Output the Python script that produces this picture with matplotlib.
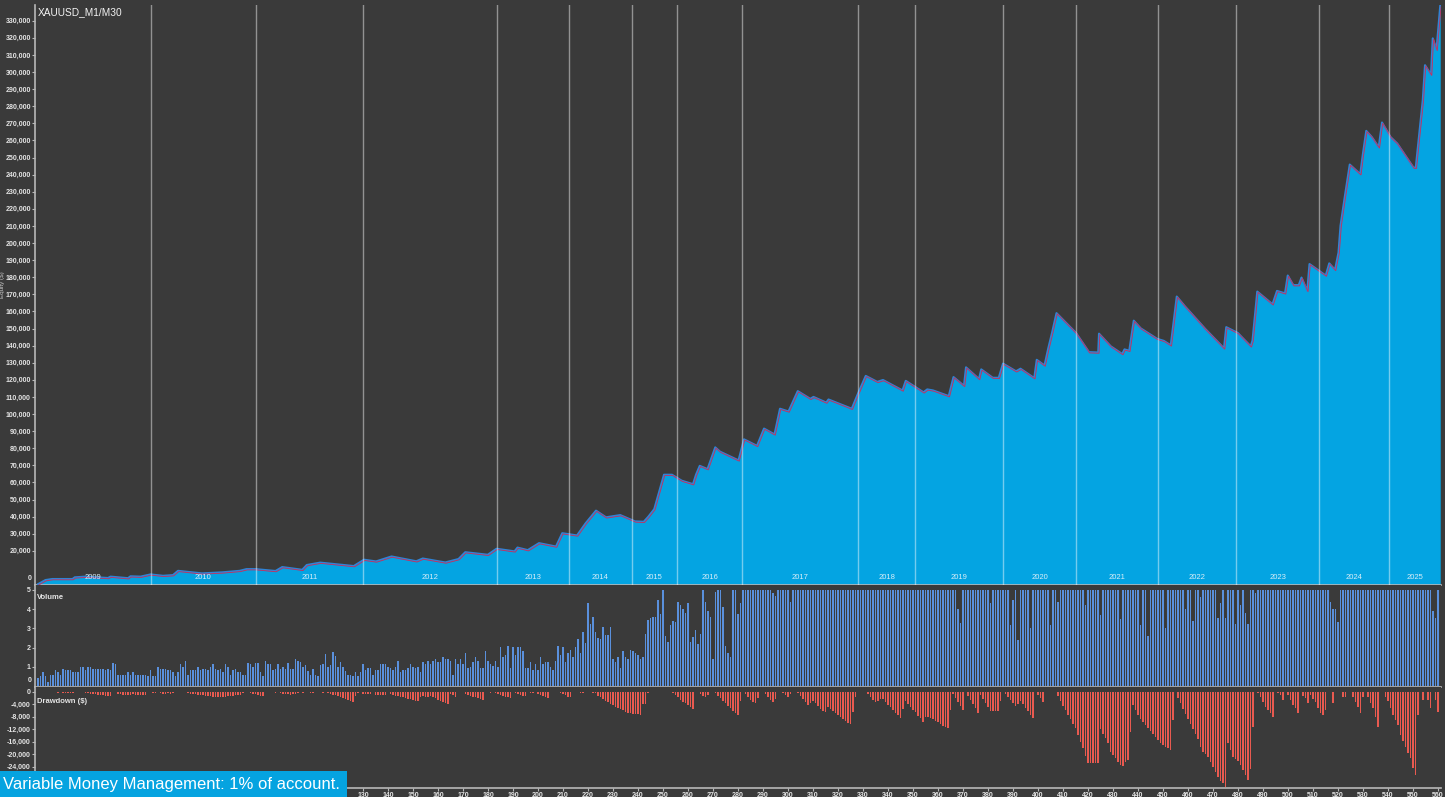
import matplotlib
matplotlib.use("agg")
import matplotlib.pyplot as plt
import matplotlib.transforms as mtransforms
from matplotlib.patches import Rectangle
from matplotlib.ticker import FuncFormatter, MultipleLocator, FixedLocator
import numpy as np

plt.rcParams['font.family'] = ['Liberation Sans', 'DejaVu Sans']

# equity curve vertices (trade number, equity in $1000)
eq_trade = [0, 3, 5.7, 13.8, 14.7, 19, 28, 29, 36, 37, 41, 45, 50, 54, 56, 65.6, 73.6, 80.7, 83.4, 87,
            95, 97.7, 105.7, 107.5, 112.9, 126.3, 130.4, 135.2, 141.4, 151.3, 153.9, 162.9, 168.2, 170.9,
            179.9, 183.4, 190.6, 191.8, 195.9, 200.4, 207.2, 209.7, 215.6, 219.1, 223.2, 227.2, 232.9,
            238.8, 242.3, 244.1, 246.5, 250.4, 253.6, 257.5, 262, 263.2, 264.7, 267.8, 270.9, 272.8,
            280.2, 282.4, 287.6, 290.4, 294.6, 296.8, 300.2, 303.9, 308.9, 310.2, 315.3, 316.2, 325.5,
            327.9, 331.1, 335.7, 338, 345.8, 347.1, 354.2, 355.7, 358, 364.3, 366.2, 370.4, 371.2, 376.4,
            377.3, 381.9, 384.3, 386.0, 391.2, 393, 398.5, 399.5, 402.6, 404.1, 405.6, 407.4, 415.2,
            420.4, 424.1, 424.4, 429.1, 433.7, 434.6, 436.5, 438.3, 441.1, 447.6, 450.3, 453.1, 455.5,
            458.7, 467.0, 474.4, 475.3, 479.9, 485.1, 485.8, 487.7, 493.8, 495.6, 498.8, 499.9, 502.1,
            504.3, 505.4, 507.7, 508.6, 515.1, 516.5, 518.8, 520.2, 521.0, 522.8, 524.7, 528.9, 529.9,
            531.3, 533.5, 536.3, 537.6, 541, 543.7, 550.2, 551.1, 553.9, 554.8, 557.2, 557.9, 559.4, 560.9]
equity_k = [0.5, 2.9, 3.5, 3.5, 4.5, 4.9, 4.1, 4.9, 4.0, 5.1, 4.9, 6.2, 5.4, 5.8, 8.3, 6.8, 7.4, 8.3, 9.3, 9.3,
            8.2, 10.5, 8.9, 11.7, 13.1, 11.1, 14.8, 13.8, 16.7, 13.9, 15.5, 13.2, 15.2, 19.2,
            17.7, 21.2, 19.7, 21.9, 20.4, 24.5, 22.5, 30.3, 29.0, 36.2, 43.5, 39.6, 40.9,
            37.2, 37.0, 39.9, 44.4, 64.5, 64.5, 61.0, 59.0, 64.5, 69.7, 67.8, 80.5, 78.0,
            72.9, 85.2, 81.4, 91.5, 88.1, 103.1, 101.5, 113.4, 108.9, 110.0, 106.7, 108.5, 103.1,
            111.6, 122.3, 118.8, 119.9, 113.8, 119.4, 112.7, 114.4, 113.8, 110.5, 121.6, 116.5, 127.3, 120.5,
            126.1, 121.2, 121.2, 129.5, 125.0, 126.5, 121.0, 131.7, 128.4, 138.4, 147.4, 159.0, 147.4,
            136.2, 136.0, 147.0, 139.6, 135.1, 137.8, 137.0, 154.6, 150.1, 144.0, 142.8, 140.2, 168.7,
            163.1, 149.6, 138.4, 150.8, 147.4, 139.6, 143.0, 171.6, 164.2, 172.0, 170.6, 181.0, 175.4,
            175.4, 179.8, 172.0, 187.7, 181.0, 188.1, 184.3, 194.4, 210.1, 227.9, 245.9, 240.3, 251.5,
            265.6, 262.0, 256.0, 270.5, 262.0, 258.2, 244.1, 244.1, 283.5, 304.0, 298.5, 319.7, 313.0, 338.8]

# lots per trade (trade 0 .. 560)
volume = [
    0.43, 0.52, 0.73, 0.52, 0.23, 0.6, 0.6, 0.83, 0.73, 0.6, 0.91, 0.83, 0.83, 0.83, 0.73, 0.73, 0.73, 1.0, 1.0, 0.83,
    1.0, 1.0, 0.91, 0.91, 0.91, 0.91, 0.91, 0.83, 0.91, 0.83, 1.22, 1.14, 0.6, 0.6, 0.6, 0.6, 0.73, 0.6, 0.73, 0.6,
    0.6, 0.6, 0.6, 0.6, 0.52, 0.83, 0.52, 0.52, 1.0, 0.91, 0.91, 0.91, 0.83, 0.83, 0.73, 0.52, 0.73, 1.14, 1.0, 1.3,
    0.6, 0.83, 0.83, 0.83, 1.0, 0.83, 0.91, 0.91, 0.83, 1.0, 1.14, 0.91, 0.83, 0.91, 0.73, 1.14, 1.0, 0.6, 0.83, 0.91,
    0.73, 0.73, 0.6, 0.6, 1.22, 1.14, 1.0, 1.22, 1.22, 0.73, 0.52, 1.3, 1.14, 1.14, 0.83, 0.91, 1.14, 0.91, 1.0, 0.91,
    1.22, 0.91, 0.91, 1.41, 1.3,
    1.25, 1.0, 1.1, 0.8, 0.6, 0.9, 0.6, 0.5, 1.1, 1.15, 1.65, 1.0, 1.1, 1.75, 1.55,
    1.0, 1.23, 1.0, 0.78, 0.6, 0.6, 0.52, 0.71, 0.52, 0.71, 1.13, 0.83, 0.92, 0.92, 0.6, 0.83, 0.83, 1.13, 1.13, 1.13,
    1.0, 0.92, 0.83, 1.0, 1.3, 0.71, 0.83, 0.83, 0.92, 1.13, 1.0, 0.92, 1.0, 0.71, 1.23, 1.13, 1.3, 1.13, 1.3, 1.4,
    1.23, 1.23, 1.53, 1.4, 1.4, 1.3, 0.6, 1.4, 1.13, 1.4, 1.13, 1.7, 0.92, 1.0, 1.23, 1.53, 1.3, 0.92, 0.92, 1.82,
    1.3, 1.13, 1.05, 1.3, 1.0, 2.03, 1.53, 1.62, 2.1, 0.92, 2.03, 1.62, 2.03, 2.03, 1.82, 0.92, 0.92, 1.23, 0.82, 1.13,
    0.82, 1.53, 1.13, 1.23, 1.23, 1.0, 0.82, 1.3, 2.1, 1.62, 2.03, 1.23, 1.7, 1.9, 1.53, 2.03, 2.43, 1.7, 2.83, 2.22,
    4.3, 3.21, 3.61, 2.83, 2.52, 2.43, 3.09, 2.64, 2.64, 3.09, 1.4, 1.23, 1.53, 0.92, 1.82, 1.53, 1.4, 1.9, 1.82, 1.7,
    1.62, 1.4, 1.53, 2.69, 3.44, 3.52, 3.61, 3.61,
    4.48, 3.73, 5.0, 2.6, 2.3, 3.2, 3.4, 3.33, 4.39, 4.2, 4.0, 3.79, 4.3, 2.3, 2.53, 2.9, 2.2, 2.71, 5.0, 4.39,
    3.92, 3.57, 1.39, 4.88, 5.0, 5.0, 4.13, 2.08, 1.7, 1.49, 5.0, 5.0, 3.75, 4.3, 5.0, 5.0, 5.0, 5.0, 5.0, 5.0,
    5.0, 5.0, 5.0, 5.0, 5.0, 5.0, 4.85, 4.7, 5.0,
    5, 5, 5, 5, 4.4, 5, 5, 5, 5, 5, 5, 5,
    5, 5, 5, 5, 5, 5, 5, 5, 5, 5, 5, 5,
    5, 5, 5, 5, 5, 5, 5, 5, 5, 5, 5, 5,
    5, 5, 5, 5, 5, 5, 5, 5, 5, 5, 5, 5,
    5, 5, 5, 5, 5, 5, 5, 5, 5, 5, 5, 5,
    5, 5, 5, 5, 5, 5, 5, 5, 5, 5, 5, 4.0,
    3.3, 5, 5, 5, 5, 5, 5, 5, 5, 5, 5, 5,
    4.3, 5, 5, 5, 5, 5, 5, 5, 3.2, 4.5, 5, 2.4,
    5, 5, 5, 5, 3.0, 5, 5, 5, 5, 5, 5, 5,
    3.2, 5, 5, 4.4, 5, 5, 5, 5, 5, 5, 5, 5,
    5, 5, 4.2, 5, 5, 5, 5, 5, 3.7, 5, 5, 5,
    5, 5, 5, 5, 3.5, 5, 5, 5, 5, 5, 5, 5,
    3.2, 5, 5, 2.6, 5, 5, 5, 5, 5, 5, 3.0, 5,
    5, 5, 5, 5, 5, 5, 4.0, 5, 5, 3.4, 5, 5,
    4.62, 5, 5, 5, 5, 5, 5, 3.52, 4.3, 5, 3.52, 5, 5, 5, 3.21, 5, 4.2, 5, 3.82, 3.21,
    5, 5, 4.83, 5, 5, 5, 5, 5, 5, 5, 5, 5, 5, 5, 5, 5, 5, 5, 5, 5,
    5, 5, 5, 5, 5, 5, 5, 5, 5, 5, 5, 5, 4.39, 4.0, 4.0, 3.33, 5, 5, 5, 5,
    5, 5, 5, 5, 5, 5, 5, 5, 5, 5, 5, 5, 5, 5, 5, 5, 5, 5, 5, 5,
    5, 5, 5, 5, 5, 5, 5, 5, 5, 5, 5, 5, 5, 3.92, 3.52, 5]

# drawdown in $ per trade (trade 0 .. 560)
drawdown = [
    -200, 0, -150, -200, -250, 0, -200, -300, -350, -150, -400, -450, -450, -500, -350, -300, -300, 0, -250, -450,
    -600, -700, -800, -900, -1000, -1100, -1200, -1300, -1400, -1400, -300, -200, -700, -900, -1000, -1100, -1200, -1200, -900, -1000,
    -1100, -1200, -1100, -1000, -300, 0, -400, -500, -300, -600, -700, -800, -600, -700, -500, -300, -200, 0, -200, 0,
    -600, -700, -800, -900, -1000, -1100, -1200, -1300, -1400, -1500, -1600, -1700, -1900, -1800, -1700, -1600, -1500, -1400, -1300, -1100,
    -1100, -1000, -400, 0, -300, -500, -700, -900, -1100, -1300, -1300, 0, -200, 0, -300, -500, 0, -600, -700, -800,
    -900, -1000, -800, -700, -600,
    -300, -500, 0, -200, -400, -500, -300, 0, -200, -400, 0, -600, -900, -1200, -1000,
    -1280, -1600, -1920, -2240, -2560, -2880, -3200, -1280, -400, 0, -750, -750, -750, -750, 0, -960, -960, -960, -960, -960,
    0, -750, -1000, -1300, -1500, -1700, -1900, -2100, -2300, -2500, -2700, -2900, -3100, -1600, -1300, -1800, -1900, -1300, -1800, -2200,
    -2600, -3000, -3300, -3600, -3950, -700, -1200, -1700, 0, 0, 0, -750, -1000, -1300, -1600, -1900, -2200, -2400, -2560, 0,
    -300, -400, -300, -400, -700, -1000, -1300, -1600, -1800, -2000, 0, -400, -700, -1000, -1300, -1500, 0, -400, -400, 0,
    -700, -1100, -1500, -1900, -2100, 0, 0, 0, 0, -400, -800, -1200, -1600, -1700, 0, 0, 0, -400, -600, 0,
    0, 0, -400, -400, -1400, -1900, -2400, -2900, -3400, -3900, -4400, -4800, -5200, -5600, -6000, -6400, -6800, -7000, -7150, -7150,
    -7200, -7400, -3900, -3900, -400, 0, 0, 0,
    0, 0, 0, 0, -200, 0, -600, -1200, -1800, -2600, -3200, -3800, -4400, -5000, -5500, 0, 0, -900, -1500, -1900,
    -1200, 0, 0, -600, -1400, -2200, -3000, -3800, -4600, -5400, -6200, -7000, -7600, -3000, 0, -800, -1700, -2600, -3300, -3800,
    -2000, 0, 0, -800, -1800, -2700, -3400, -2500, 0, 0, -600, -1200, -1600, -800, 0, 0, -600, -1500, -2400, -3300,
    -4300, -3600, -3000, -3800, -4700, -5600, -6300, -6700, -5000, -5500, -6200, -6900, -7600, -8200, -8900, -9500, -10000, -10300, -6500, -1800,
    0, 0, 0, 0, -900, -1800, -2700, -3500, -3000, -2500, -2400, -3300, -4200, -5000, -5900, -6800, -7600, -8500, -5500, -2900,
    -3900, -4800, -5800, -6700, -7700, -8600, -9600, -8000, -8200, -8500, -8900, -9400, -9900, -10400, -10900, -11400, -11800, -6000, -700, -2000,
    -3300, -4500, -5800, 0, -1300, -2700, -4000, -5400, -6800, -1200, -2400, -3600, -4900, -6100, -6100, -6100, -6100, -3000, 0, -900,
    -1800, -2700, -3600, -4500, -4000, -3000, -4100, -5200, -6300, -7400, -8500, 0, -1100, -2200, -3300, 0, 0, 0, 0, 0,
    -1500, -3000, -4500, -6000, -7400, -8900, -10300, -11600, -13800, -16000, -18200, -20500, -22800, -22800, -22900, -23000, -23000, -12000, -13500, -15000,
    -16600, -19400, -20400, -21400, -22400, -23400, -23900, -22500, -22000, -13000, -4400, -5900, -7400, -8900, -9900, -10800, -11800, -12700, -13700, -14600,
    -15600, -16500, -17000, -17600, -18200, -18800, -9000, 0, -2000, -3800, -5600, -7200, -8800, -10400, -12000, -13600, -15200,
    -17660, -19260, -20000, -21100, -22480, -24290, -25670, -27280, -28560, -29400,
    -30670, -16580, -18720, -20850, -21700, -22240, -23520, -25120, -26720, -28320,
    -24900, -11250, 0, -600, -1870, -3250, -4850, -5920, -6990, -8050,
    0, -600, -1130, -2730, 0, -1130, -2730, -4330, -5400, -6990,
    0, -1450, -2200, -3790, -1100, -2500, -3250, -5400, -6990, -7520,
    -5920, 0, 0, -3790, 0, 0, 0, -1650, -1650, 0,
    0, -1650, -3250, -4850, -6770, -1650, 0, -1650, -3790, -5400,
    -8050, -11250, 0, 0, -1870, -2940, -5400, -7520, -9120, -10720,
    -13920, -15740, -17660, -19580, -21390, -24590, -26720, -7520, 0, -2730,
    0, -2730, -5400, 0, -2730, -6460]

# year boundaries in trade numbers and year names
year_bounds = [45.0, 87.2, 130.2, 183.6, 212.5, 237.5, 255.6, 281.7, 327.9, 351.0,
               386.0, 415.2, 448.1, 479.4, 512.5, 540.6]
years = ['2009', '2010', '2011', '2012', '2013', '2014', '2015', '2016', '2017',
         '2018', '2019', '2020', '2021', '2022', '2023', '2024', '2025']

BG = '#3a3a3a'
FILL = '#04a4e2'
TXT = '#e4e4e4'
SPINE = '#b8b8b8'
W, H = 1445, 797
XMIN, XMAX = -1.2, 561.2

fig = plt.figure(figsize=(W / 100, H / 100), dpi=100, facecolor=BG)

def box(x0, y0, x1, y1):
    return [x0 / W, 1 - y1 / H, (x1 - x0) / W, (y1 - y0) / H]

ax_eq = fig.add_axes(box(35, 5, 1441, 585))
ax_vol = fig.add_axes(box(35, 585, 1441, 687))
ax_dd = fig.add_axes(box(35, 687, 1441, 788))

tick_font = dict(fontsize=5, fontweight='bold', color=TXT)
comma = FuncFormatter(lambda v, p: '{:,.0f}'.format(v))

for ax in (ax_eq, ax_vol, ax_dd):
    ax.set_facecolor(BG)
    ax.set_xlim(XMIN, XMAX)
    for s in ('top', 'right'):
        ax.spines[s].set_visible(False)
    for s in ('left', 'bottom'):
        ax.spines[s].set_color(SPINE)
        ax.spines[s].set_linewidth(1.2)
    ax.xaxis.set_major_locator(MultipleLocator(10))
    ax.tick_params(axis='both', length=2, width=0.8, color=SPINE, pad=1,
                   labelsize=5, labelcolor=TXT)

# equity panel
eq_x = np.array(eq_trade)
eq_y = np.array(equity_k) * 1000
ax_eq.fill_between(eq_x, eq_y, 0, color=FILL, lw=0, zorder=1)
ax_eq.plot(eq_x, eq_y, color='#2f84d6', lw=1.5, zorder=3)
shift = mtransforms.ScaledTranslation(0.8 / 100, -0.8 / 100, fig.dpi_scale_trans)
ax_eq.plot(eq_x, eq_y, color='#c8305a', lw=0.6, zorder=4, transform=ax_eq.transData + shift)
for b in year_bounds:
    ax_eq.axvline(b, color='white', alpha=0.45, lw=1, zorder=5)
edges = [XMIN] + year_bounds + [XMAX]
ytrans = mtransforms.blended_transform_factory(ax_eq.transData, ax_eq.transAxes)
for i, yr in enumerate(years):
    ax_eq.text((edges[i] + edges[i + 1]) / 2, 0.0135, yr, transform=ytrans, ha='center', va='center',
               fontsize=5.5, color='#d8eef8', zorder=6)
ax_eq.set_ylim(0, 339200)
ax_eq.yaxis.set_major_locator(FixedLocator(list(range(20000, 330001, 10000))))
ax_eq.yaxis.set_major_formatter(comma)
ax_eq.annotate('0', xy=(0, 0), xycoords=('axes fraction', 'data'), xytext=(-3, 6),
               textcoords='offset pixels', ha='right', va='center', **tick_font)
ax_eq.tick_params(axis='x', labelbottom=False)
ax_eq.text(0.0021, 0.988, 'XAUUSD_M1/M30', transform=ax_eq.transAxes, ha='left', va='center',
           fontsize=7.3, color='#f2f2f2', zorder=7)
fig.text(2.5 / W, 1 - 285 / H, 'Equity ($)', rotation=90, ha='center', va='center',
         fontsize=4.5, color='#c8c8c8')

# volume panel
tr = np.arange(len(volume))
ax_vol.bar(tr, volume, width=0.6, color='#5a90dc', edgecolor='none', zorder=2)
ax_vol.set_ylim(-0.05, 5.26)
ax_vol.yaxis.set_major_locator(FixedLocator([1, 2, 3, 4, 5]))
ax_vol.annotate('0', xy=(0, 0), xycoords=('axes fraction', 'data'), xytext=(-3, 6),
                textcoords='offset pixels', ha='right', va='center', **tick_font)
ax_vol.tick_params(axis='x', labelbottom=False)
ax_vol.text(0.0015, 0.873, 'Volume', transform=ax_vol.transAxes, ha='left', va='center',
            fontsize=5.5, fontweight='bold', color=TXT)

# drawdown panel
tr = np.arange(len(drawdown))
ax_dd.bar(tr, drawdown, width=0.6, color='#e85a50', edgecolor='none', zorder=2)
ax_dd.set_ylim(-30880, 1440)
ax_dd.yaxis.set_major_locator(FixedLocator([0, -4000, -8000, -12000, -16000, -20000, -24000]))
ax_dd.yaxis.set_major_formatter(comma)
ax_dd.xaxis.set_major_formatter(FuncFormatter(lambda v, p: '{:.0f}'.format(v)))
ax_dd.text(0.0015, 0.861, 'Drawdown ($)', transform=ax_dd.transAxes, ha='left', va='center',
           fontsize=5.5, fontweight='bold', color=TXT)

for ax in (ax_eq, ax_vol, ax_dd):
    for lab in ax.get_yticklabels() + ax.get_xticklabels():
        lab.set_fontweight('bold')

# money-management banner
fig.patches.append(Rectangle((0, 0), 347 / W, 26 / H, transform=fig.transFigure,
                             facecolor='#05a3e0', edgecolor='none', zorder=10))
fig.text(3 / W, 13 / H, 'Variable Money Management: 1% of account.', ha='left', va='center',
         fontsize=12, color='white', zorder=11)

fig.savefig('out.png', dpi=100, facecolor=BG)
